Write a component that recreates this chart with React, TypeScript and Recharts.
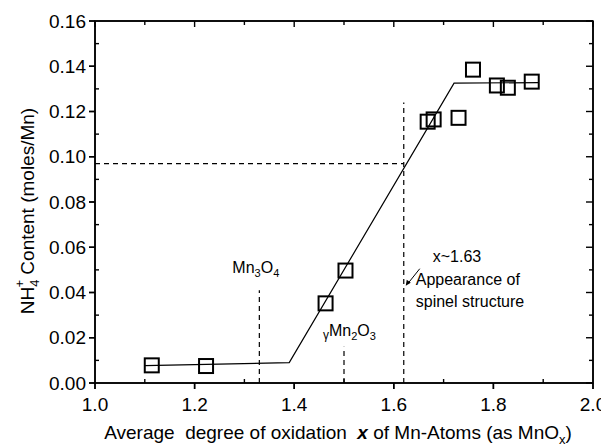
import React from 'react';
import {
  ComposedChart,
  XAxis,
  YAxis,
  Line,
  Scatter,
  ReferenceLine,
  ReferenceDot,
} from 'recharts';

// Measured NH4+ content against the average Mn oxidation degree
const oxidationDegree = [1.114, 1.223, 1.463, 1.503, 1.668, 1.68, 1.73, 1.759, 1.807, 1.829, 1.877];
const ammoniumContent = [0.0078, 0.0075, 0.0352, 0.0497, 0.1155, 0.1165, 0.1172, 0.1385, 0.1315, 0.1305, 0.1332];

// Piecewise linear fit through the measurements
const fitDegree = [1.1, 1.39, 1.721, 1.89];
const fitContent = [0.0077, 0.009, 0.1325, 0.1328];

// Axis ticks
const xMajorTicks = [1.0, 1.2, 1.4, 1.6, 1.8, 2.0];
const xAllTicks = [1.0, 1.1, 1.2, 1.3, 1.4, 1.5, 1.6, 1.7, 1.8, 1.9, 2.0];
const yMajorTicks = [0, 0.02, 0.04, 0.06, 0.08, 0.1, 0.12, 0.14, 0.16];
const yAllTicks = [0, 0.01, 0.02, 0.03, 0.04, 0.05, 0.06, 0.07, 0.08, 0.09, 0.1, 0.11, 0.12, 0.13, 0.14, 0.15, 0.16];

// Plot frame corners (axis domain limits)
const frameX = [1.0, 2.0, 2.0, 1.0, 1.0];
const frameY = [0, 0, 0.16, 0.16, 0];

// Reference markers
const mn3o4Degree = 1.33;
const mn3o4Top = 0.041;
const mn2o3Degree = 1.5;
const mn2o3Top = 0.016;
const spinelDegree = 1.62;
const spinelTop = 0.124;
const spinelContent = 0.097;
const arrowTip = { x: 1.624, y: 0.043 };

const points = oxidationDegree.map((x, i) => ({ x, y: ammoniumContent[i] }));
const fitLine = fitDegree.map((x, i) => ({ x, y: fitContent[i] }));
const frameLine = frameX.map((x, i) => ({ x, y: frameY[i] }));

const isMajor = (list: number[], v: number) => list.some((m) => Math.abs(m - v) < 1e-9);
const bottomMarks = xAllTicks.map((t) => ({ x: t, y: 0, major: isMajor(xMajorTicks, t) }));
const topMarks = xAllTicks.map((t) => ({ x: t, y: 0.16, major: isMajor(xMajorTicks, t) }));
const leftMarks = yAllTicks.map((t) => ({ x: 1.0, y: t, major: isMajor(yMajorTicks, t) }));
const rightMarks = yAllTicks.map((t) => ({ x: 2.0, y: t, major: isMajor(yMajorTicks, t) }));

const FONT = "Arial, 'Liberation Sans', Helvetica, sans-serif";
const INK = '#000';
const tickStyle = { fill: INK, fontSize: 19, fontFamily: FONT };
const lineStyle = { stroke: INK, strokeWidth: 1.5 };

const SquareMarker = (props: any) => {
  const { cx, cy } = props;
  return <rect x={cx - 7} y={cy - 7} width={14} height={14} fill="none" stroke={INK} strokeWidth={2} />;
};

// Tick marks: majors point outward on the bottom/left, everything else points inward
const markProps = { stroke: INK, strokeWidth: 1.4, fill: 'none' };
const BottomMark = (props: any) => {
  const { cx, cy, payload } = props;
  const major = payload && payload.major;
  return <path d={`M${cx},${cy}L${cx},${major ? cy + 6 : cy - 4}`} {...markProps} />;
};
const TopMark = (props: any) => {
  const { cx, cy, payload } = props;
  const major = payload && payload.major;
  return <path d={`M${cx},${cy}L${cx},${cy + (major ? 6 : 4)}`} {...markProps} />;
};
const LeftMark = (props: any) => {
  const { cx, cy, payload } = props;
  const major = payload && payload.major;
  return <path d={`M${cx},${cy}L${major ? cx - 6 : cx + 4},${cy}`} {...markProps} />;
};
const RightMark = (props: any) => {
  const { cx, cy, payload } = props;
  const major = payload && payload.major;
  return <path d={`M${cx},${cy}L${cx - (major ? 7 : 4)},${cy}`} {...markProps} />;
};

// Axis titles, placed relative to the plot origin (1.0, 0)
const AxisTitles = (props: any) => {
  const { viewBox } = props;
  const ox = viewBox.x;
  const oy = viewBox.y;
  return (
    <g fontFamily={FONT} fill={INK}>
      <text transform={`translate(${ox - 61},${oy - 172}) rotate(-90)`} textAnchor="middle" fontSize={19}>
        <tspan>NH</tspan>
        <tspan fontSize={13} dy={5}>4</tspan>
        <tspan fontSize={13} dx={-8} dy={-15}>+</tspan>
        <tspan dy={10} style={{ whiteSpace: 'pre' }}> Content (moles/Mn)</tspan>
      </text>
      <text x={ox + 243} y={oy + 56} textAnchor="middle" fontSize={19} style={{ whiteSpace: 'pre' }}>
        <tspan>Average  degree of oxidation  </tspan>
        <tspan fontStyle="italic" fontWeight="bold">x</tspan>
        <tspan> of Mn-Atoms (as MnO</tspan>
        <tspan fontSize={13} dy={5}>x</tspan>
        <tspan dy={-5}>)</tspan>
      </text>
    </g>
  );
};

const Mn3O4Label = (props: any) => {
  const { viewBox } = props;
  const x = viewBox.x;
  const y = viewBox.y;
  return (
    <text x={x - 27} y={y - 17} fontSize={16} fontFamily={FONT} fill={INK}>
      <tspan>Mn</tspan>
      <tspan fontSize={11} dy={4}>3</tspan>
      <tspan dy={-4}>O</tspan>
      <tspan fontSize={11} dy={4}>4</tspan>
    </text>
  );
};

const Mn2O3Label = (props: any) => {
  const { viewBox } = props;
  const x = viewBox.x;
  const y = viewBox.y;
  return (
    <text x={x - 21} y={y - 11} fontSize={16} fontFamily={FONT} fill={INK}>
      <tspan fontSize={12} dy={3}>γ</tspan>
      <tspan dy={-3}>Mn</tspan>
      <tspan fontSize={11} dy={4}>2</tspan>
      <tspan dy={-4}>O</tspan>
      <tspan fontSize={11} dy={4}>3</tspan>
    </text>
  );
};

const SpinelNote = (props: any) => {
  const { viewBox } = props;
  const x = viewBox.x;
  const y = viewBox.y;
  return (
    <g fontFamily={FONT} fill={INK} fontSize={16}>
      <line x1={x + 14} y1={y - 17} x2={x + 2} y2={y - 2} stroke={INK} strokeWidth={1} />
      <polygon points={`${x},${y} ${x + 1},${y - 6} ${x + 5},${y - 3}`} fill={INK} />
      <text x={x + 27} y={y - 24}>x~1.63</text>
      <text x={x + 10} y={y - 1}>Appearance of</text>
      <text x={x + 10} y={y + 21}>spinel structure</text>
    </g>
  );
};

export default function App() {
  return (
    <div style={{ marginLeft: -8, marginTop: -8 }}>
      <ComposedChart width={609} height={447} data={points} margin={{ top: 21, right: 16, bottom: 34, left: 35 }}>
        <XAxis
          dataKey="x"
          type="number"
          domain={[1.0, 2.0]}
          ticks={xMajorTicks}
          interval={0}
          height={30}
          tickSize={6}
          tickMargin={9}
          axisLine={lineStyle}
          tickLine={lineStyle}
          tick={tickStyle}
          tickFormatter={(v: number) => v.toFixed(1)}
        />
        <XAxis
          xAxisId="top"
          orientation="top"
          type="number"
          domain={[1.0, 2.0]}
          ticks={xAllTicks}
          interval={0}
          height={1}
          mirror
          tickSize={5}
          axisLine={lineStyle}
          tickLine={lineStyle}
          tick={false}
        />
        <YAxis
          dataKey="y"
          type="number"
          domain={[0, 0.16]}
          ticks={yMajorTicks}
          interval={0}
          width={60}
          tickSize={6}
          tickMargin={3}
          axisLine={lineStyle}
          tickLine={lineStyle}
          tick={tickStyle}
          tickFormatter={(v: number) => v.toFixed(2)}
        />
        <YAxis
          yAxisId="right"
          orientation="right"
          type="number"
          domain={[0, 0.16]}
          ticks={yAllTicks}
          interval={0}
          width={1}
          mirror
          tickSize={5}
          axisLine={lineStyle}
          tickLine={lineStyle}
          tick={false}
        />

        <ReferenceLine
          segment={[{ x: mn3o4Degree, y: 0 }, { x: mn3o4Degree, y: mn3o4Top }]}
          stroke={INK}
          strokeWidth={1.2}
          strokeDasharray="5 4"
        />
        <ReferenceLine
          segment={[{ x: mn2o3Degree, y: 0 }, { x: mn2o3Degree, y: mn2o3Top }]}
          stroke={INK}
          strokeWidth={1.2}
          strokeDasharray="5 4"
        />
        <ReferenceLine
          segment={[{ x: spinelDegree, y: 0 }, { x: spinelDegree, y: spinelTop }]}
          stroke={INK}
          strokeWidth={1.2}
          strokeDasharray="5 4"
        />
        <ReferenceLine
          segment={[{ x: 1.0, y: spinelContent }, { x: spinelDegree, y: spinelContent }]}
          stroke={INK}
          strokeWidth={1.2}
          strokeDasharray="5 4"
        />

        <Line
          data={frameLine}
          dataKey="y"
          type="linear"
          stroke={INK}
          strokeWidth={1.5}
          dot={false}
          activeDot={false}
          isAnimationActive={false}
        />
        <Scatter data={bottomMarks} dataKey="y" shape={<BottomMark />} isAnimationActive={false} />
        <Scatter data={topMarks} dataKey="y" shape={<TopMark />} isAnimationActive={false} />
        <Scatter data={leftMarks} dataKey="y" shape={<LeftMark />} isAnimationActive={false} />
        <Scatter data={rightMarks} dataKey="y" shape={<RightMark />} isAnimationActive={false} />

        <Line
          data={fitLine}
          dataKey="y"
          type="linear"
          stroke={INK}
          strokeWidth={1.2}
          dot={false}
          activeDot={false}
          isAnimationActive={false}
        />
        <Scatter dataKey="y" shape={<SquareMarker />} isAnimationActive={false} />

        <ReferenceDot x={1.0} y={0} r={0} label={{ content: (p: any) => <AxisTitles {...p} /> }} />
        <ReferenceDot x={mn3o4Degree} y={mn3o4Top} r={0} label={{ content: (p: any) => <Mn3O4Label {...p} /> }} />
        <ReferenceDot x={mn2o3Degree} y={mn2o3Top} r={0} label={{ content: (p: any) => <Mn2O3Label {...p} /> }} />
        <ReferenceDot x={arrowTip.x} y={arrowTip.y} r={0} label={{ content: (p: any) => <SpinelNote {...p} /> }} />
      </ComposedChart>
    </div>
  );
}
